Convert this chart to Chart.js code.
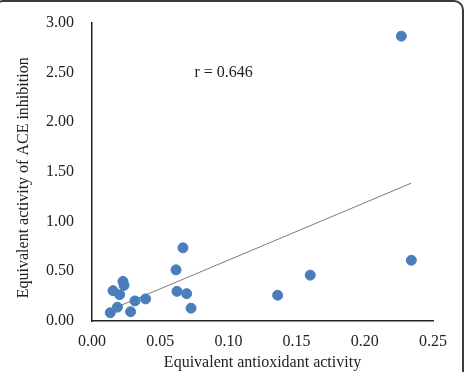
<!DOCTYPE html>
<html>
<head>
<meta charset="utf-8">
<script src="https://cdn.jsdelivr.net/npm/chart.js@4"></script>
<style>
  html, body { margin: 0; padding: 0; background: #fff; }
  #wrap { position: relative; width: 467px; height: 372px; overflow: hidden; }
  #frame {
    position: absolute; left: -7px; top: 0px; width: 471px; height: 400px;
    border: 2px solid #3a3a3a; border-radius: 10px; box-sizing: border-box;
  }
  canvas { position: absolute; left: 0; top: 0; }
</style>
</head>
<body>
<div id="wrap">
  <div id="frame"></div>
  <canvas id="chart" width="467" height="372"></canvas>
</div>
<script>
const antioxidant = [0.2268, 0.2341, 0.160, 0.1361, 0.0667, 0.0616, 0.0623, 0.0694, 0.0726,
  0.0393, 0.0315, 0.0283, 0.0227, 0.0235, 0.0203, 0.0154, 0.0186, 0.0134];
const aceInhibition = [2.864, 0.610, 0.461, 0.259, 0.736, 0.514, 0.298, 0.275, 0.129,
  0.222, 0.202, 0.093, 0.398, 0.358, 0.265, 0.305, 0.139, 0.083];

// trendline end points
const trendX = [0.0134, 0.2341];
const trendY = [0.112, 1.386];

const rLabel = 'r = 0.646';
const rLabelAt = [0.0965, 2.5];
const yTitle = 'Equivalent activity of ACE inhibition';

const font = { family: '"Liberation Serif", "Times New Roman", serif', size: 16 };
const ink = '#222';

const points = antioxidant.map((x, i) => ({ x, y: aceInhibition[i] }));
const trend = trendX.map((x, i) => ({ x, y: trendY[i] }));

const annotate = {
  id: 'labels',
  afterDatasetsDraw(chart) {
    const { ctx, scales, chartArea } = chart;
    ctx.save();
    ctx.font = `${font.size}px ${font.family}`;
    ctx.fillStyle = ink;
    ctx.textAlign = 'center';
    ctx.textBaseline = 'middle';
    ctx.fillText(rLabel, scales.x.getPixelForValue(rLabelAt[0]), scales.y.getPixelForValue(rLabelAt[1]));
    // y axis title, sitting a little below the plot centre as in the original
    ctx.translate(24, (chartArea.top + chartArea.bottom) / 2 + 6);
    ctx.rotate(-Math.PI / 2);
    ctx.fillText(yTitle, 0, 0);
    ctx.restore();
  },
};

new Chart(document.getElementById('chart'), {
  type: 'scatter',
  data: {
    datasets: [
      {
        type: 'line',
        data: trend,
        borderColor: '#7a7a7a',
        borderWidth: 1,
        pointRadius: 0,
        fill: false,
        order: 2,
      },
      {
        data: points,
        backgroundColor: '#4a7ebb',
        borderColor: '#4a7ebb',
        borderWidth: 1,
        pointRadius: 5,
        order: 1,
      },
    ],
  },
  options: {
    responsive: false,
    animation: false,
    layout: { padding: { top: 19, right: 34, left: 0, bottom: 0 } },
    plugins: { legend: { display: false }, tooltip: { enabled: false } },
    scales: {
      x: {
        type: 'linear',
        min: 0,
        max: 0.25,
        afterFit: (s) => { s.height = 51; },
        ticks: { stepSize: 0.05, color: ink, font, padding: 6, callback: (v) => v.toFixed(2) },
        grid: { display: false, drawTicks: true, tickLength: 5, tickColor: ink },
        border: { color: ink, width: 1.5 },
        title: { display: true, text: 'Equivalent antioxidant activity', color: ink, font, padding: { top: 0, bottom: 0 } },
      },
      y: {
        type: 'linear',
        min: 0,
        max: 3,
        afterFit: (s) => { s.width = 92; },
        ticks: { stepSize: 0.5, color: ink, font, padding: 13, callback: (v) => v.toFixed(2) },
        grid: { display: false, drawTicks: true, tickLength: 5, tickColor: ink },
        border: { color: ink, width: 1.5 },
        title: { display: false },
      },
    },
  },
  plugins: [annotate],
});
</script>
</body>
</html>
